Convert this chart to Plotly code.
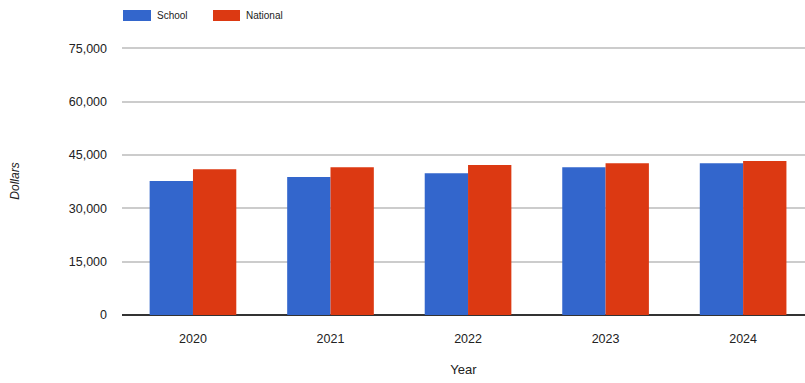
import plotly.graph_objects as go

years = ["2020", "2021", "2022", "2023", "2024"]
school = [37700, 38800, 39900, 41600, 42700]
national = [41000, 41600, 42200, 42700, 43300]
y_ticks = [0, 15000, 30000, 45000, 60000, 75000]
y_tick_labels = ["0", "15,000", "30,000", "45,000", "60,000", "75,000"]
series_names = ["School", "National"]
series_colors = ["#3366CC", "#DC3912"]

fig = go.Figure()
fig.add_trace(go.Bar(name=series_names[0], x=years, y=school,
                     marker=dict(color=series_colors[0], line=dict(width=0))))
fig.add_trace(go.Bar(name=series_names[1], x=years, y=national,
                     marker=dict(color=series_colors[1], line=dict(width=0))))

L, T, B, W, H = 122, 47, 68, 805, 383
pw, ph = W - L, H - T - B
def px(x):
    return (x - L) / pw
def py(y):
    return (H - B - y) / ph

# custom legend (wide swatches like the original)
legend_items = [(123, 151, 155), (213, 240, 244)]
for (x0, x1, tx), name, col in zip(legend_items, series_names, series_colors):
    fig.add_shape(type="rect", xref="paper", yref="paper",
                  x0=px(x0), x1=px(x1), y0=py(21), y1=py(10),
                  fillcolor=col, line=dict(width=0))
    fig.add_annotation(xref="paper", yref="paper", x=px(tx), y=py(16),
                       text=name, showarrow=False, xanchor="left", yanchor="middle",
                       font=dict(size=10, color="#222"))

fig.update_layout(
    width=W, height=H,
    margin=dict(l=L, r=0, t=T, b=B),
    paper_bgcolor="white", plot_bgcolor="white",
    barmode="group", bargap=0.37, bargroupgap=0,
    font=dict(family="Liberation Sans, Arial, sans-serif", size=12.5, color="#222"),
    showlegend=False,
    xaxis=dict(type="category", range=[-0.516, 4.45], showgrid=False, ticks="",
               showline=False, zeroline=False, ticklabelstandoff=14,
               title=dict(text="Year", standoff=20, font=dict(size=13, color="#222"))),
    yaxis=dict(range=[0, 75400], tickvals=y_ticks, ticktext=y_tick_labels,
               showgrid=True, gridcolor="#cccccc", gridwidth=2,
               zeroline=True, zerolinecolor="#333333", zerolinewidth=2,
               ticks="", ticklabelstandoff=14,
               title=dict(text="<i>Dollars</i>", standoff=46, font=dict(size=12, color="#222"))),
)

fig.write_html("out.html")
